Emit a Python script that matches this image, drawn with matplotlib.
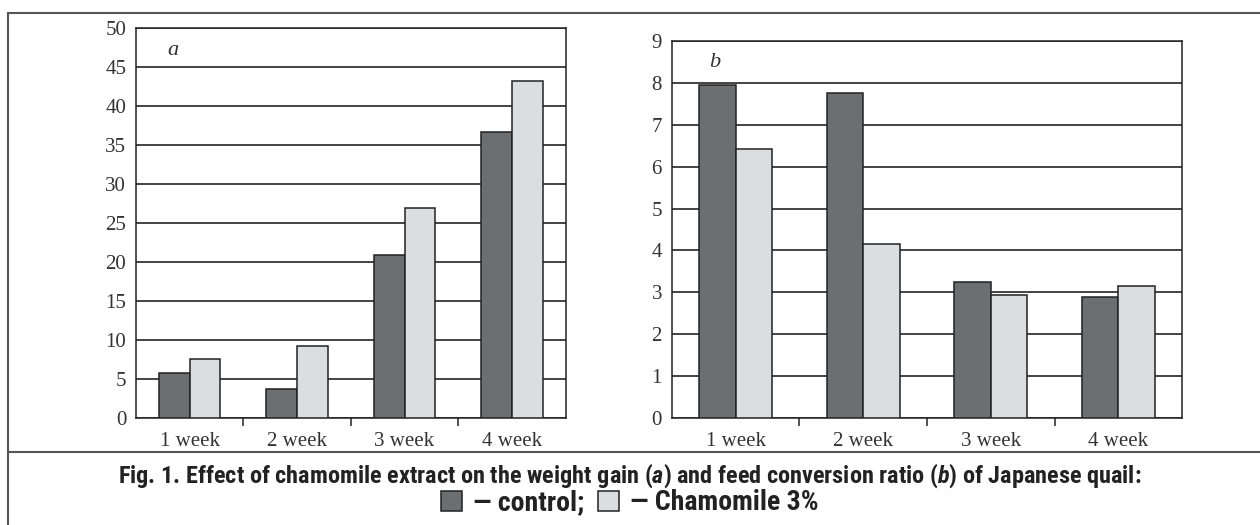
import matplotlib
matplotlib.use("Agg")
import matplotlib.pyplot as plt
from matplotlib.lines import Line2D
import numpy as np
from matplotlib import font_manager as fm

weeks = ["1 week", "2 week", "3 week", "4 week"]
gain_control = [5.8, 3.7, 21.0, 36.7]
gain_chamomile = [7.6, 9.3, 27.0, 43.3]
fcr_control = [7.94, 7.75, 3.25, 2.88]
fcr_chamomile = [6.42, 4.15, 2.94, 3.16]
series_labels = ["\u2014 control;", "\u2014 Chamomile 3%"]

DARK = "#6d6e70"
LIGHT = "#dcdddf"
TXT = "#333333"

# pick a condensed bold sans if any is installed
cap_font = None
cap_stretch = "normal"
cands = []
for f in fm.fontManager.ttflist:
    st = f.stretch if isinstance(f.stretch, str) else str(f.stretch)
    if ("ondensed" in st or "arrow" in f.name or "ondensed" in f.name) and f.style == "normal":
        cands.append((f.name, st))
pref = ["Liberation Sans Narrow", "DejaVu Sans Condensed", "Roboto Condensed",
        "Open Sans Condensed", "Noto Sans Condensed"]
for p in pref:
    for n, st in cands:
        if n == p:
            cap_font, cap_stretch = n, st
            break
    if cap_font:
        break
if cap_font is None and cands:
    cap_font, cap_stretch = cands[0]
if cap_font is None:
    cap_font = "Roboto"
serif = "Liberation Serif"

plt.rcParams["mathtext.fontset"] = "custom"
plt.rcParams["mathtext.rm"] = f"{cap_font}:bold"
plt.rcParams["mathtext.it"] = f"{cap_font}:bold:italic"

W, H = 1260, 525
fig = plt.figure(figsize=(W / 100, H / 100), dpi=100)

def box(l, t, r, b):
    return [l / W, 1 - b / H, (r - l) / W, (b - t) / H]

ax_a = fig.add_axes(box(136, 28.3, 565.7, 418.3))
ax_b = fig.add_axes(box(671.7, 40.7, 1182.3, 418.3))

bw = 0.286
x = np.arange(len(weeks))
handles = None
for ax, c1, c2, ymax, step, lab, ly in [
    (ax_a, gain_control, gain_chamomile, 50, 5, "a", 0.9426),
    (ax_b, fcr_control, fcr_chamomile, 9, 1, "b", 0.941),
]:
    b1 = ax.bar(x - bw / 2, c1, bw, color=DARK, edgecolor="#222222", linewidth=1.1, zorder=3)
    b2 = ax.bar(x + bw / 2, c2, bw, color=LIGHT, edgecolor="#222222", linewidth=1.1, zorder=3)
    handles = (b1, b2)
    ax.set_xlim(-0.5, len(weeks) - 0.5)
    ax.set_ylim(0, ymax)
    ax.set_yticks(np.arange(0, ymax + step / 2, step))
    ax.yaxis.grid(True, color="#111111", linewidth=1.1, zorder=1)
    ax.set_axisbelow(True)
    ax.tick_params(axis="y", length=0, pad=7, labelsize=15, labelcolor=TXT)
    for t in ax.get_yticklabels():
        t.set_fontfamily(serif)
    ax.set_xticks(np.arange(0.5, len(weeks) - 1, 1))
    ax.set_xticklabels([])
    ax.set_xticks(x, minor=True)
    ax.set_xticklabels(weeks, minor=True, fontfamily=serif, fontsize=15, color=TXT)
    ax.tick_params(axis="x", which="major", length=6, width=1.1, color="#222222", direction="out")
    ax.tick_params(axis="x", which="minor", length=0, pad=10)
    for s in ax.spines.values():
        s.set_color("#222222")
        s.set_linewidth(1.1)
    ax.text(0.085, ly, lab, transform=ax.transAxes, ha="center", va="center",
            fontfamily=serif, fontstyle="italic", fontsize=16, color=TXT)

# frame lines
fc = "#555555"
fig.add_artist(Line2D([8 / W, 1], [1 - 12.7 / H] * 2, transform=fig.transFigure, color=fc, lw=1.5))
fig.add_artist(Line2D([8 / W, 8 / W], [1 - 12.7 / H, 0], transform=fig.transFigure, color=fc, lw=1.5))
fig.add_artist(Line2D([8 / W, 1], [1 - 451.7 / H] * 2, transform=fig.transFigure, color=fc, lw=1.5))

cap = ("Fig. 1. Effect of chamomile extract on the weight gain ($\\mathit{a}$) and feed "
       "conversion ratio ($\\mathit{b}$) of Japanese quail:")
ctext = fig.text(0.5, 1 - 476 / H, cap, ha="center", va="center", fontfamily=cap_font,
                 fontstretch=cap_stretch, fontweight="bold", fontsize=15, color="#222222")
# fit the caption width to the reference (~1025 px)
r = fig.canvas.get_renderer()
wpx = ctext.get_window_extent(r).width
fs = 15 * 1025 / wpx
ctext.set_fontsize(fs)

leg = fig.legend(handles, series_labels, loc="center", bbox_to_anchor=(0.5, 1 - 503 / H),
                 ncol=2, frameon=False, handlelength=0.75, handleheight=0.75,
                 handletextpad=0.4, columnspacing=0.5,
                 prop={"family": cap_font, "stretch": cap_stretch, "weight": "bold",
                       "size": fs * 1.15})
for t in leg.get_texts():
    t.set_color("#222222")

fig.savefig("out.png", dpi=100)
